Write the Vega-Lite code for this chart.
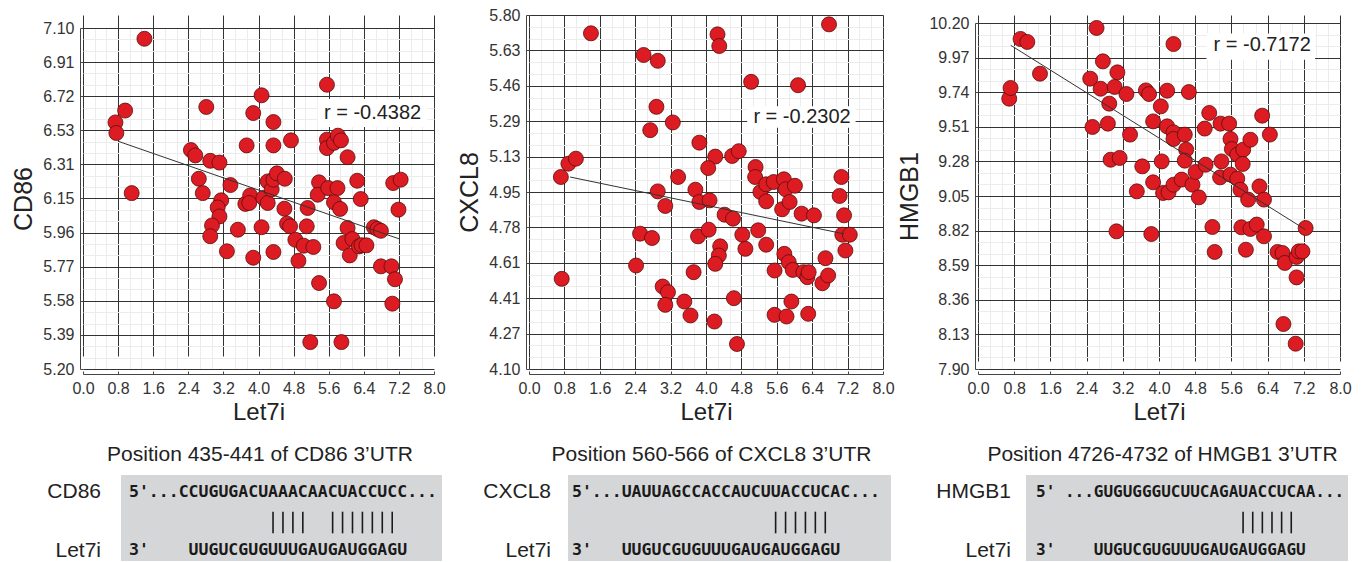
{
"$schema": "https://vega.github.io/schema/vega-lite/v6.json",
"padding": {"left": 11, "top": 7, "right": 0, "bottom": 0},
"background": "white",
"bounds": "flush",
"align": "each",
"columns": 3,
"spacing": {"row": 106, "column": 95},
"resolve": {"scale": {"x": "independent", "y": "independent"}},
"datasets": {
"cd86": [{"x":1.40,"y":7.04},{"x":0.74,"y":6.574},{"x":0.96,"y":6.64},{"x":0.76,"y":6.515},{"x":1.11,"y":6.18},{"x":2.81,"y":6.66},{"x":2.46,"y":6.42},{"x":2.56,"y":6.39},{"x":2.90,"y":6.36},{"x":3.11,"y":6.35},{"x":2.64,"y":6.26},{"x":2.73,"y":6.18},{"x":3.15,"y":6.14},{"x":3.07,"y":6.10},{"x":3.11,"y":6.05},{"x":2.94,"y":6.00},{"x":2.90,"y":5.94},{"x":3.36,"y":6.225},{"x":3.53,"y":5.976},{"x":3.28,"y":5.856},{"x":3.73,"y":6.446},{"x":3.88,"y":6.626},{"x":4.07,"y":6.725},{"x":4.34,"y":6.576},{"x":4.34,"y":6.446},{"x":4.74,"y":6.474},{"x":3.70,"y":6.12},{"x":3.81,"y":6.167},{"x":3.79,"y":6.125},{"x":4.11,"y":6.153},{"x":4.21,"y":6.125},{"x":4.21,"y":6.245},{"x":4.30,"y":6.20},{"x":4.34,"y":6.255},{"x":4.42,"y":6.29},{"x":4.60,"y":6.26},{"x":4.59,"y":6.093},{"x":4.65,"y":6.01},{"x":4.72,"y":5.995},{"x":4.07,"y":5.99},{"x":3.88,"y":5.82},{"x":4.34,"y":5.852},{"x":4.84,"y":5.92},{"x":5.03,"y":5.887},{"x":5.25,"y":5.88},{"x":4.91,"y":5.803},{"x":5.10,"y":5.995},{"x":5.12,"y":6.097},{"x":5.38,"y":6.24},{"x":5.35,"y":6.171},{"x":5.56,"y":6.784},{"x":5.56,"y":6.478},{"x":5.56,"y":6.431},{"x":5.72,"y":6.46},{"x":5.81,"y":6.50},{"x":5.88,"y":6.474},{"x":6.03,"y":6.38},{"x":5.59,"y":6.208},{"x":5.80,"y":6.208},{"x":5.72,"y":6.129},{"x":5.86,"y":6.092},{"x":6.25,"y":6.249},{"x":6.33,"y":6.147},{"x":6.03,"y":5.986},{"x":5.94,"y":5.902},{"x":6.14,"y":5.924},{"x":6.08,"y":5.833},{"x":6.29,"y":5.883},{"x":6.35,"y":5.89},{"x":6.46,"y":5.889},{"x":6.63,"y":5.99},{"x":6.71,"y":5.98},{"x":6.79,"y":5.97},{"x":6.79,"y":5.772},{"x":7.03,"y":5.772},{"x":7.11,"y":5.70},{"x":7.05,"y":5.564},{"x":7.07,"y":6.236},{"x":7.24,"y":6.255},{"x":7.19,"y":6.088},{"x":5.38,"y":5.679},{"x":5.72,"y":5.577},{"x":5.18,"y":5.35},{"x":5.89,"y":5.35}],
"cxcl8": [{"x":1.40,"y":5.712},{"x":2.59,"y":5.608},{"x":2.91,"y":5.58},{"x":4.26,"y":5.707},{"x":4.30,"y":5.651},{"x":6.78,"y":5.755},{"x":5.02,"y":5.479},{"x":6.08,"y":5.463},{"x":2.88,"y":5.359},{"x":2.74,"y":5.247},{"x":3.25,"y":5.284},{"x":0.72,"y":5.022},{"x":0.89,"y":5.086},{"x":1.06,"y":5.11},{"x":3.37,"y":5.022},{"x":2.91,"y":4.953},{"x":3.08,"y":4.883},{"x":3.85,"y":5.187},{"x":4.21,"y":5.12},{"x":4.05,"y":5.065},{"x":4.59,"y":5.123},{"x":4.74,"y":5.146},{"x":3.76,"y":4.961},{"x":3.85,"y":4.902},{"x":4.08,"y":4.91},{"x":5.12,"y":5.07},{"x":5.11,"y":5.022},{"x":5.23,"y":4.95},{"x":5.36,"y":4.987},{"x":5.36,"y":4.905},{"x":5.53,"y":4.998},{"x":5.76,"y":5.011},{"x":5.80,"y":4.963},{"x":6.01,"y":4.98},{"x":5.72,"y":4.867},{"x":5.89,"y":4.902},{"x":6.16,"y":4.846},{"x":6.44,"y":4.838},{"x":4.42,"y":4.841},{"x":4.61,"y":4.822},{"x":7.06,"y":5.022},{"x":7.02,"y":4.931},{"x":7.12,"y":4.838},{"x":7.08,"y":4.745},{"x":7.25,"y":4.745},{"x":7.15,"y":4.669},{"x":2.51,"y":4.75},{"x":2.78,"y":4.729},{"x":3.82,"y":4.737},{"x":4.06,"y":4.769},{"x":4.82,"y":4.745},{"x":4.89,"y":4.677},{"x":5.18,"y":4.766},{"x":5.36,"y":4.697},{"x":4.32,"y":4.689},{"x":4.29,"y":4.645},{"x":4.21,"y":4.605},{"x":2.42,"y":4.597},{"x":0.74,"y":4.533},{"x":3.72,"y":4.565},{"x":3.02,"y":4.496},{"x":3.14,"y":4.469},{"x":3.08,"y":4.408},{"x":3.51,"y":4.424},{"x":3.65,"y":4.357},{"x":4.19,"y":4.328},{"x":4.63,"y":4.44},{"x":4.70,"y":4.22},{"x":5.55,"y":4.36},{"x":5.82,"y":4.352},{"x":5.93,"y":4.424},{"x":6.31,"y":4.365},{"x":5.77,"y":4.653},{"x":5.87,"y":4.613},{"x":5.55,"y":4.573},{"x":5.96,"y":4.576},{"x":6.20,"y":4.565},{"x":6.29,"y":4.541},{"x":6.32,"y":4.565},{"x":6.63,"y":4.512},{"x":6.70,"y":4.632},{"x":6.76,"y":4.549}],
"hmgb1": [{"x":2.62,"y":10.167},{"x":0.94,"y":10.094},{"x":1.09,"y":10.074},{"x":4.32,"y":10.06},{"x":1.37,"y":9.863},{"x":0.69,"y":9.697},{"x":0.72,"y":9.768},{"x":2.48,"y":9.83},{"x":2.76,"y":9.945},{"x":3.08,"y":9.872},{"x":2.71,"y":9.763},{"x":3.02,"y":9.775},{"x":3.28,"y":9.728},{"x":2.90,"y":9.664},{"x":2.53,"y":9.509},{"x":2.87,"y":9.531},{"x":3.36,"y":9.458},{"x":3.71,"y":9.752},{"x":3.78,"y":9.728},{"x":4.18,"y":9.75},{"x":4.66,"y":9.741},{"x":4.04,"y":9.646},{"x":3.87,"y":9.546},{"x":4.18,"y":9.513},{"x":4.32,"y":9.473},{"x":4.32,"y":9.429},{"x":4.57,"y":9.458},{"x":4.60,"y":9.358},{"x":4.57,"y":9.285},{"x":2.93,"y":9.291},{"x":3.13,"y":9.303},{"x":4.06,"y":9.28},{"x":3.63,"y":9.247},{"x":3.87,"y":9.141},{"x":3.51,"y":9.081},{"x":4.09,"y":9.07},{"x":4.21,"y":9.074},{"x":4.32,"y":9.125},{"x":4.50,"y":9.159},{"x":4.74,"y":9.125},{"x":4.81,"y":9.21},{"x":4.88,"y":9.041},{"x":3.06,"y":8.815},{"x":3.83,"y":8.797},{"x":5.01,"y":9.498},{"x":5.11,"y":9.602},{"x":5.36,"y":9.531},{"x":5.55,"y":9.531},{"x":5.58,"y":9.429},{"x":5.61,"y":9.362},{"x":5.73,"y":9.325},{"x":5.86,"y":9.358},{"x":6.02,"y":9.424},{"x":5.03,"y":9.258},{"x":5.38,"y":9.28},{"x":5.35,"y":9.174},{"x":5.58,"y":9.192},{"x":5.73,"y":9.165},{"x":5.85,"y":9.263},{"x":5.80,"y":9.092},{"x":5.97,"y":9.026},{"x":6.22,"y":9.114},{"x":6.32,"y":9.026},{"x":6.28,"y":9.584},{"x":6.45,"y":9.458},{"x":5.18,"y":8.844},{"x":5.23,"y":8.678},{"x":5.82,"y":8.842},{"x":6.02,"y":8.831},{"x":6.16,"y":8.86},{"x":6.32,"y":8.782},{"x":5.92,"y":8.693},{"x":6.62,"y":8.678},{"x":6.73,"y":8.671},{"x":6.78,"y":8.605},{"x":7.04,"y":8.645},{"x":7.09,"y":8.682},{"x":7.17,"y":8.682},{"x":7.24,"y":8.837},{"x":7.04,"y":8.509},{"x":6.75,"y":8.199},{"x":7.02,"y":8.068}],
"fit": [{"g":"CD86","x":0.811,"y":6.468},{"g":"CD86","x":7.218,"y":5.924},{"g":"CXCL8","x":0.928,"y":5.022},{"g":"CXCL8","x":7.117,"y":4.749},{"g":"HMGB1","x":0.722,"y":10.052},{"g":"HMGB1","x":7.241,"y":8.826}],
"rlab": [{"g":"CD86","label":"r = -0.4382"},{"g":"CXCL8","label":"r = -0.2302"},{"g":"HMGB1","label":"r = -0.7172"}],
"txt": [
{"g":"CD86","t":"title","s":"Position 435-441 of CD86 3’UTR"},
{"g":"CD86","t":"gene","s":"CD86"},
{"g":"CD86","t":"mir","s":"Let7i"},
{"g":"CD86","t":"seq","s":"5'...CCUGUGACUAAACAACUACCUCC..."},
{"g":"CD86","t":"mirseq","s":"3'\u00a0\u00a0\u00a0\u00a0UUGUCGUGUUUGAUGAUGGAGU"},
{"g":"CXCL8","t":"title","s":"Position 560-566 of CXCL8 3’UTR"},
{"g":"CXCL8","t":"gene","s":"CXCL8"},
{"g":"CXCL8","t":"mir","s":"Let7i"},
{"g":"CXCL8","t":"seq","s":"5'...UAUUAGCCACCAUCUUACCUCAC..."},
{"g":"CXCL8","t":"mirseq","s":"3'\u00a0\u00a0\u00a0UUGUCGUGUUUGAUGAUGGAGU"},
{"g":"HMGB1","t":"title","s":"Position 4726-4732 of HMGB1 3’UTR"},
{"g":"HMGB1","t":"gene","s":"HMGB1"},
{"g":"HMGB1","t":"mir","s":"Let7i"},
{"g":"HMGB1","t":"seq","s":"5'\u00a0...GUGUGGGUCUUCAGAUACCUCAA..."},
{"g":"HMGB1","t":"mirseq","s":"3'\u00a0\u00a0\u00a0\u00a0UUGUCGUGUUUGAUGAUGGAGU"}
],
"bars": [{"g":"CD86","c":14},{"g":"CD86","c":15},{"g":"CD86","c":16},{"g":"CD86","c":17},{"g":"CD86","c":20},{"g":"CD86","c":21},{"g":"CD86","c":22},{"g":"CD86","c":23},{"g":"CD86","c":24},{"g":"CD86","c":25},{"g":"CD86","c":26},
{"g":"CXCL8","c":20},{"g":"CXCL8","c":21},{"g":"CXCL8","c":22},{"g":"CXCL8","c":23},{"g":"CXCL8","c":24},{"g":"CXCL8","c":25},
{"g":"HMGB1","c":21},{"g":"HMGB1","c":22},{"g":"HMGB1","c":23},{"g":"HMGB1","c":24},{"g":"HMGB1","c":25},{"g":"HMGB1","c":26}]
},
"concat": [
{
"width": 351, "height": 354,
"layer": [
{"data": {"name": "cd86"}, "mark": {"type": "point", "opacity": 0},
 "encoding": {
  "x": {"field": "x", "type": "quantitative", "scale": {"domain": [0, 8], "nice": false, "zero": false},
        "axis": {"orient": "top", "values": [0.2667,0.5333,1.0667,1.3333,1.8667,2.1333,2.6667,2.9333,3.4667,3.7333,4.2667,4.5333,5.0667,5.3333,5.8667,6.1333,6.6667,6.9333,7.4667,7.7333], "grid": true, "gridColor": "#ececec", "labels": false, "ticks": false, "domain": false, "title": null}},
  "y": {"field": "y", "type": "quantitative", "scale": {"domain": [5.2, 7.1], "nice": false, "zero": false, "range": [354, 13]},
        "axis": {"orient": "right", "values": [5.2633,5.3267,5.4533,5.5167,5.6433,5.7067,5.8333,5.8967,6.0233,6.0867,6.2133,6.2767,6.4033,6.4667,6.5933,6.6567,6.7833,6.8467,6.9733,7.0367], "grid": true, "gridColor": "#ececec", "labels": false, "ticks": false, "domain": false, "title": null}}
 }},
{"data": {"name": "rlab"}, "transform": [{"filter": "datum.g=='CD86'"}], "mark": {"type": "rect", "fill": "white"},
 "encoding": {"x": {"datum": 5.35, "type": "quantitative", "axis": null}, "x2": {"datum": 7.85}, "y": {"datum": 6.548, "type": "quantitative", "axis": null}, "y2": {"datum": 6.705}}},
{"data": {"name": "cd86"}, "mark": {"type": "circle", "size": 225, "fill": "#dc1c22", "stroke": "#5c0d0d", "strokeWidth": 0.8, "opacity": 1},
 "encoding": {
  "x": {"field": "x", "type": "quantitative", "axis": {"orient": "bottom", "values": [0,0.8,1.6,2.4,3.2,4,4.8,5.6,6.4,7.2,8], "format": ".1f", "grid": true, "gridColor": "#333", "gridOpacity": 1, "domain": true, "domainColor": "#444", "offset": 5, "ticks": true, "tickSize": -3, "tickColor": "#444", "labelPadding": 9, "labelFontSize": 16, "labelColor": "#333", "labelOverlap": false, "labelFlush": false, "title": "Let7i", "titleFontSize": 24, "titleFontWeight": "normal", "titleColor": "#222", "titlePadding": 4}},
  "y": {"field": "y", "type": "quantitative", "axis": {"orient": "left", "values": [5.2,5.39,5.58,5.77,5.96,6.15,6.34,6.53,6.72,6.91,7.1], "labelExpr": "abs(datum.value-6.34)<0.001 ? '6.31' : format(datum.value, '.2f')", "grid": true, "gridColor": "#333", "gridOpacity": 1, "domain": true, "domainColor": "#444", "offset": 3, "ticks": true, "tickSize": -3, "tickColor": "#444", "labelPadding": 9, "labelFontSize": 16, "labelColor": "#333", "labelOverlap": false, "labelFlush": false, "title": "CD86", "titleFontSize": 25, "titleFontWeight": "normal", "titleColor": "#222", "titlePadding": 6}}
 }},
{"data": {"name": "fit"}, "transform": [{"filter": "datum.g=='CD86'"}], "mark": {"type": "line", "color": "#333", "strokeWidth": 1},
 "encoding": {"x": {"field": "x", "type": "quantitative", "axis": null}, "y": {"field": "y", "type": "quantitative", "axis": null}}},
{"data": {"name": "rlab"}, "transform": [{"filter": "datum.g=='CD86'"}], "mark": {"type": "text", "fontSize": 20, "color": "#222", "align": "center", "baseline": "middle"},
 "encoding": {"x": {"datum": 6.6, "type": "quantitative", "axis": null}, "y": {"datum": 6.626, "type": "quantitative", "axis": null}, "text": {"field": "label"}}}
],
"resolve": {"axis": {"x": "independent", "y": "independent"}}
},
{
"width": 354, "height": 354,
"layer": [
{"data": {"name": "cxcl8"}, "mark": {"type": "point", "opacity": 0},
 "encoding": {
  "x": {"field": "x", "type": "quantitative", "scale": {"domain": [0, 8], "nice": false, "zero": false},
        "axis": {"orient": "top", "values": [0.2667,0.5333,1.0667,1.3333,1.8667,2.1333,2.6667,2.9333,3.4667,3.7333,4.2667,4.5333,5.0667,5.3333,5.8667,6.1333,6.6667,6.9333,7.4667,7.7333], "grid": true, "gridColor": "#ececec", "labels": false, "ticks": false, "domain": false, "title": null}},
  "y": {"field": "y", "type": "quantitative", "scale": {"domain": [4.1, 5.8], "nice": false, "zero": false, "range": [354, 0]},
        "axis": {"orient": "right", "values": [4.1567,4.2133,4.3267,4.3833,4.4967,4.5533,4.6667,4.7233,4.8367,4.8933,5.0067,5.0633,5.1767,5.2333,5.3467,5.4033,5.5167,5.5733,5.6867,5.7433], "grid": true, "gridColor": "#ececec", "labels": false, "ticks": false, "domain": false, "title": null}}
 }},
{"data": {"name": "rlab"}, "transform": [{"filter": "datum.g=='CXCL8'"}], "mark": {"type": "rect", "fill": "white"},
 "encoding": {"x": {"datum": 4.93, "type": "quantitative", "axis": null}, "x2": {"datum": 7.38}, "y": {"datum": 5.258, "type": "quantitative", "axis": null}, "y2": {"datum": 5.362}}},
{"data": {"name": "cxcl8"}, "mark": {"type": "circle", "size": 225, "fill": "#dc1c22", "stroke": "#5c0d0d", "strokeWidth": 0.8, "opacity": 1},
 "encoding": {
  "x": {"field": "x", "type": "quantitative", "axis": {"orient": "bottom", "values": [0,0.8,1.6,2.4,3.2,4,4.8,5.6,6.4,7.2,8], "format": ".1f", "grid": true, "gridColor": "#333", "gridOpacity": 1, "domain": true, "domainColor": "#444", "offset": 5, "ticks": true, "tickSize": -3, "tickColor": "#444", "labelPadding": 9, "labelFontSize": 16, "labelColor": "#333", "labelOverlap": false, "labelFlush": false, "title": "Let7i", "titleFontSize": 24, "titleFontWeight": "normal", "titleColor": "#222", "titlePadding": 4}},
  "y": {"field": "y", "type": "quantitative", "axis": {"orient": "left", "values": [4.1,4.27,4.44,4.61,4.78,4.95,5.12,5.29,5.46,5.63,5.8], "labelExpr": "abs(datum.value-4.44)<0.001 ? '4.41' : abs(datum.value-5.12)<0.001 ? '5.13' : format(datum.value, '.2f')", "grid": true, "gridColor": "#333", "gridOpacity": 1, "domain": true, "domainColor": "#444", "offset": 3, "ticks": true, "tickSize": -3, "tickColor": "#444", "labelPadding": 9, "labelFontSize": 16, "labelColor": "#333", "labelOverlap": false, "labelFlush": false, "title": "CXCL8", "titleFontSize": 25, "titleFontWeight": "normal", "titleColor": "#222", "titlePadding": 6}}
 }},
{"data": {"name": "fit"}, "transform": [{"filter": "datum.g=='CXCL8'"}], "mark": {"type": "line", "color": "#333", "strokeWidth": 1},
 "encoding": {"x": {"field": "x", "type": "quantitative", "axis": null}, "y": {"field": "y", "type": "quantitative", "axis": null}}},
{"data": {"name": "rlab"}, "transform": [{"filter": "datum.g=='CXCL8'"}], "mark": {"type": "text", "fontSize": 20, "color": "#222", "align": "center", "baseline": "middle"},
 "encoding": {"x": {"datum": 6.17, "type": "quantitative", "axis": null}, "y": {"datum": 5.311, "type": "quantitative", "axis": null}, "text": {"field": "label"}}}
],
"resolve": {"axis": {"x": "independent", "y": "independent"}}
},
{
"width": 362, "height": 354,
"layer": [
{"data": {"name": "hmgb1"}, "mark": {"type": "point", "opacity": 0},
 "encoding": {
  "x": {"field": "x", "type": "quantitative", "scale": {"domain": [0, 8], "nice": false, "zero": false},
        "axis": {"orient": "top", "values": [0.2667,0.5333,1.0667,1.3333,1.8667,2.1333,2.6667,2.9333,3.4667,3.7333,4.2667,4.5333,5.0667,5.3333,5.8667,6.1333,6.6667,6.9333,7.4667,7.7333], "grid": true, "gridColor": "#ececec", "labels": false, "ticks": false, "domain": false, "title": null}},
  "y": {"field": "y", "type": "quantitative", "scale": {"domain": [7.9, 10.2], "nice": false, "zero": false, "range": [354, 8]},
        "axis": {"orient": "right", "values": [7.9767,8.0533,8.2067,8.2833,8.4367,8.5133,8.6667,8.7433,8.8967,8.9733,9.1267,9.2033,9.3567,9.4333,9.5867,9.6633,9.8167,9.8933,10.0467,10.1233], "grid": true, "gridColor": "#ececec", "labels": false, "ticks": false, "domain": false, "title": null}}
 }},
{"data": {"name": "rlab"}, "transform": [{"filter": "datum.g=='HMGB1'"}], "mark": {"type": "rect", "fill": "white"},
 "encoding": {"x": {"datum": 5.05, "type": "quantitative", "axis": null}, "x2": {"datum": 7.45}, "y": {"datum": 9.955, "type": "quantitative", "axis": null}, "y2": {"datum": 10.13}}},
{"data": {"name": "hmgb1"}, "mark": {"type": "circle", "size": 225, "fill": "#dc1c22", "stroke": "#5c0d0d", "strokeWidth": 0.8, "opacity": 1},
 "encoding": {
  "x": {"field": "x", "type": "quantitative", "axis": {"orient": "bottom", "values": [0,0.8,1.6,2.4,3.2,4,4.8,5.6,6.4,7.2,8], "format": ".1f", "grid": true, "gridColor": "#333", "gridOpacity": 1, "domain": true, "domainColor": "#444", "offset": 5, "ticks": true, "tickSize": -3, "tickColor": "#444", "labelPadding": 9, "labelFontSize": 16, "labelColor": "#333", "labelOverlap": false, "labelFlush": false, "title": "Let7i", "titleFontSize": 24, "titleFontWeight": "normal", "titleColor": "#222", "titlePadding": 4}},
  "y": {"field": "y", "type": "quantitative", "axis": {"orient": "left", "values": [7.9,8.13,8.36,8.59,8.82,9.05,9.28,9.51,9.74,9.97,10.2], "format": ".2f", "grid": true, "gridColor": "#333", "gridOpacity": 1, "domain": true, "domainColor": "#444", "offset": 3, "ticks": true, "tickSize": -3, "tickColor": "#444", "labelPadding": 9, "labelFontSize": 16, "labelColor": "#333", "labelOverlap": false, "labelFlush": false, "title": "HMGB1", "titleFontSize": 25, "titleFontWeight": "normal", "titleColor": "#222", "titlePadding": 6}}
 }},
{"data": {"name": "fit"}, "transform": [{"filter": "datum.g=='HMGB1'"}], "mark": {"type": "line", "color": "#333", "strokeWidth": 1},
 "encoding": {"x": {"field": "x", "type": "quantitative", "axis": null}, "y": {"field": "y", "type": "quantitative", "axis": null}}},
{"data": {"name": "rlab"}, "transform": [{"filter": "datum.g=='HMGB1'"}], "mark": {"type": "text", "fontSize": 20, "color": "#222", "align": "center", "baseline": "middle"},
 "encoding": {"x": {"datum": 6.28, "type": "quantitative", "axis": null}, "y": {"datum": 10.052, "type": "quantitative", "axis": null}, "text": {"field": "label"}}}
],
"resolve": {"axis": {"x": "independent", "y": "independent"}}
},
{
"width": 351, "height": 86,
"layer": [
{"data": {"name": "txt"}, "transform": [{"filter": "datum.g=='CD86' && datum.t=='title'"}], "mark": {"type": "rect", "fill": "#d5d6d8"},
 "encoding": {"x": {"datum": -1.305, "type": "quantitative", "scale": {"domain": [-5.131, 30.206], "nice": false, "zero": false}, "axis": null}, "x2": {"datum": 31.011},
  "y": {"datum": 0, "type": "quantitative", "scale": {"domain": [0, 8.6], "nice": false, "zero": false, "reverse": true}, "axis": null}, "y2": {"datum": 8.6}}},
{"data": {"name": "txt"}, "transform": [{"filter": "datum.g=='CD86' && datum.t=='title'"}], "mark": {"type": "text", "fontSize": 21, "color": "#222", "align": "center", "baseline": "middle"},
 "encoding": {"x": {"datum": 12.689, "type": "quantitative"}, "y": {"datum": -2.0, "type": "quantitative"}, "text": {"field": "s"}}},
{"data": {"name": "txt"}, "transform": [{"filter": "datum.g=='CD86' && datum.t=='gene'"}], "mark": {"type": "text", "fontSize": 21, "color": "#222", "align": "right", "baseline": "middle"},
 "encoding": {"x": {"datum": -3.319, "type": "quantitative"}, "y": {"datum": 1.68, "type": "quantitative"}, "text": {"field": "s"}}},
{"data": {"name": "txt"}, "transform": [{"filter": "datum.g=='CD86' && datum.t=='mir'"}], "mark": {"type": "text", "fontSize": 21, "color": "#222", "align": "right", "baseline": "middle"},
 "encoding": {"x": {"datum": -3.319, "type": "quantitative"}, "y": {"datum": 7.55, "type": "quantitative"}, "text": {"field": "s"}}},
{"data": {"name": "txt"}, "transform": [{"filter": "datum.g=='CD86' && datum.t=='seq'"}], "mark": {"type": "text", "font": "DejaVu Sans Mono", "fontWeight": "bold", "fontSize": 16.5, "color": "#1a1a1a", "align": "left", "baseline": "middle"},
 "encoding": {"x": {"datum": -0.5, "type": "quantitative"}, "y": {"datum": 1.68, "type": "quantitative"}, "text": {"field": "s"}}},
{"data": {"name": "txt"}, "transform": [{"filter": "datum.g=='CD86' && datum.t=='mirseq'"}], "mark": {"type": "text", "font": "DejaVu Sans Mono", "fontWeight": "bold", "fontSize": 16.5, "color": "#1a1a1a", "align": "left", "baseline": "middle"},
 "encoding": {"x": {"datum": -0.5, "type": "quantitative"}, "y": {"datum": 7.45, "type": "quantitative"}, "text": {"field": "s"}}},
{"data": {"name": "bars"}, "transform": [{"filter": "datum.g=='CD86'"}], "mark": {"type": "rule", "color": "#1a1a1a", "strokeWidth": 1.6},
 "encoding": {"x": {"field": "c", "type": "quantitative"}, "y": {"datum": 3.67, "type": "quantitative"}, "y2": {"datum": 5.83}}}
]
},
{
"width": 354, "height": 86,
"layer": [
{"data": {"name": "txt"}, "transform": [{"filter": "datum.g=='CXCL8' && datum.t=='title'"}], "mark": {"type": "rect", "fill": "#d5d6d8"},
 "encoding": {"x": {"datum": -0.903, "type": "quantitative", "scale": {"domain": [-4.829, 30.810], "nice": false, "zero": false}, "axis": null}, "x2": {"datum": 31.615},
  "y": {"datum": 0, "type": "quantitative", "scale": {"domain": [0, 8.6], "nice": false, "zero": false, "reverse": true}, "axis": null}, "y2": {"datum": 8.6}}},
{"data": {"name": "txt"}, "transform": [{"filter": "datum.g=='CXCL8' && datum.t=='title'"}], "mark": {"type": "text", "fontSize": 21, "color": "#222", "align": "center", "baseline": "middle"},
 "encoding": {"x": {"datum": 13.544, "type": "quantitative"}, "y": {"datum": -2.0, "type": "quantitative"}, "text": {"field": "s"}}},
{"data": {"name": "txt"}, "transform": [{"filter": "datum.g=='CXCL8' && datum.t=='gene'"}], "mark": {"type": "text", "fontSize": 21, "color": "#222", "align": "right", "baseline": "middle"},
 "encoding": {"x": {"datum": -2.614, "type": "quantitative"}, "y": {"datum": 1.68, "type": "quantitative"}, "text": {"field": "s"}}},
{"data": {"name": "txt"}, "transform": [{"filter": "datum.g=='CXCL8' && datum.t=='mir'"}], "mark": {"type": "text", "fontSize": 21, "color": "#222", "align": "right", "baseline": "middle"},
 "encoding": {"x": {"datum": -2.614, "type": "quantitative"}, "y": {"datum": 7.55, "type": "quantitative"}, "text": {"field": "s"}}},
{"data": {"name": "txt"}, "transform": [{"filter": "datum.g=='CXCL8' && datum.t=='seq'"}], "mark": {"type": "text", "font": "DejaVu Sans Mono", "fontWeight": "bold", "fontSize": 16.5, "color": "#1a1a1a", "align": "left", "baseline": "middle"},
 "encoding": {"x": {"datum": -0.5, "type": "quantitative"}, "y": {"datum": 1.68, "type": "quantitative"}, "text": {"field": "s"}}},
{"data": {"name": "txt"}, "transform": [{"filter": "datum.g=='CXCL8' && datum.t=='mirseq'"}], "mark": {"type": "text", "font": "DejaVu Sans Mono", "fontWeight": "bold", "fontSize": 16.5, "color": "#1a1a1a", "align": "left", "baseline": "middle"},
 "encoding": {"x": {"datum": -0.5, "type": "quantitative"}, "y": {"datum": 7.45, "type": "quantitative"}, "text": {"field": "s"}}},
{"data": {"name": "bars"}, "transform": [{"filter": "datum.g=='CXCL8'"}], "mark": {"type": "rule", "color": "#1a1a1a", "strokeWidth": 1.6},
 "encoding": {"x": {"field": "c", "type": "quantitative"}, "y": {"datum": 3.67, "type": "quantitative"}, "y2": {"datum": 5.83}}}
]
},
{
"width": 362, "height": 86,
"layer": [
{"data": {"name": "txt"}, "transform": [{"filter": "datum.g=='HMGB1' && datum.t=='title'"}], "mark": {"type": "rect", "fill": "#d5d6d8"},
 "encoding": {"x": {"datum": -1.539, "type": "quantitative", "scale": {"domain": [-6.522, 31.061], "nice": false, "zero": false}, "axis": null}, "x2": {"datum": 31.891},
  "y": {"datum": 0, "type": "quantitative", "scale": {"domain": [0, 8.6], "nice": false, "zero": false, "reverse": true}, "axis": null}, "y2": {"datum": 8.6}}},
{"data": {"name": "txt"}, "transform": [{"filter": "datum.g=='HMGB1' && datum.t=='title'"}], "mark": {"type": "text", "fontSize": 21, "color": "#222", "align": "center", "baseline": "middle"},
 "encoding": {"x": {"datum": 12.633, "type": "quantitative"}, "y": {"datum": -2.0, "type": "quantitative"}, "text": {"field": "s"}}},
{"data": {"name": "txt"}, "transform": [{"filter": "datum.g=='HMGB1' && datum.t=='gene'"}], "mark": {"type": "text", "fontSize": 21, "color": "#222", "align": "right", "baseline": "middle"},
 "encoding": {"x": {"datum": -3.096, "type": "quantitative"}, "y": {"datum": 1.68, "type": "quantitative"}, "text": {"field": "s"}}},
{"data": {"name": "txt"}, "transform": [{"filter": "datum.g=='HMGB1' && datum.t=='mir'"}], "mark": {"type": "text", "fontSize": 21, "color": "#222", "align": "right", "baseline": "middle"},
 "encoding": {"x": {"datum": -3.096, "type": "quantitative"}, "y": {"datum": 7.55, "type": "quantitative"}, "text": {"field": "s"}}},
{"data": {"name": "txt"}, "transform": [{"filter": "datum.g=='HMGB1' && datum.t=='seq'"}], "mark": {"type": "text", "font": "DejaVu Sans Mono", "fontWeight": "bold", "fontSize": 16, "color": "#1a1a1a", "align": "left", "baseline": "middle"},
 "encoding": {"x": {"datum": -0.5, "type": "quantitative"}, "y": {"datum": 1.68, "type": "quantitative"}, "text": {"field": "s"}}},
{"data": {"name": "txt"}, "transform": [{"filter": "datum.g=='HMGB1' && datum.t=='mirseq'"}], "mark": {"type": "text", "font": "DejaVu Sans Mono", "fontWeight": "bold", "fontSize": 16, "color": "#1a1a1a", "align": "left", "baseline": "middle"},
 "encoding": {"x": {"datum": -0.5, "type": "quantitative"}, "y": {"datum": 7.45, "type": "quantitative"}, "text": {"field": "s"}}},
{"data": {"name": "bars"}, "transform": [{"filter": "datum.g=='HMGB1'"}], "mark": {"type": "rule", "color": "#1a1a1a", "strokeWidth": 1.6},
 "encoding": {"x": {"field": "c", "type": "quantitative"}, "y": {"datum": 3.67, "type": "quantitative"}, "y2": {"datum": 5.83}}}
]
}
],
"config": {
"font": "Liberation Sans",
"view": {"stroke": null},
"axis": {"labelFont": "Liberation Sans", "titleFont": "Liberation Sans"}
}
}
